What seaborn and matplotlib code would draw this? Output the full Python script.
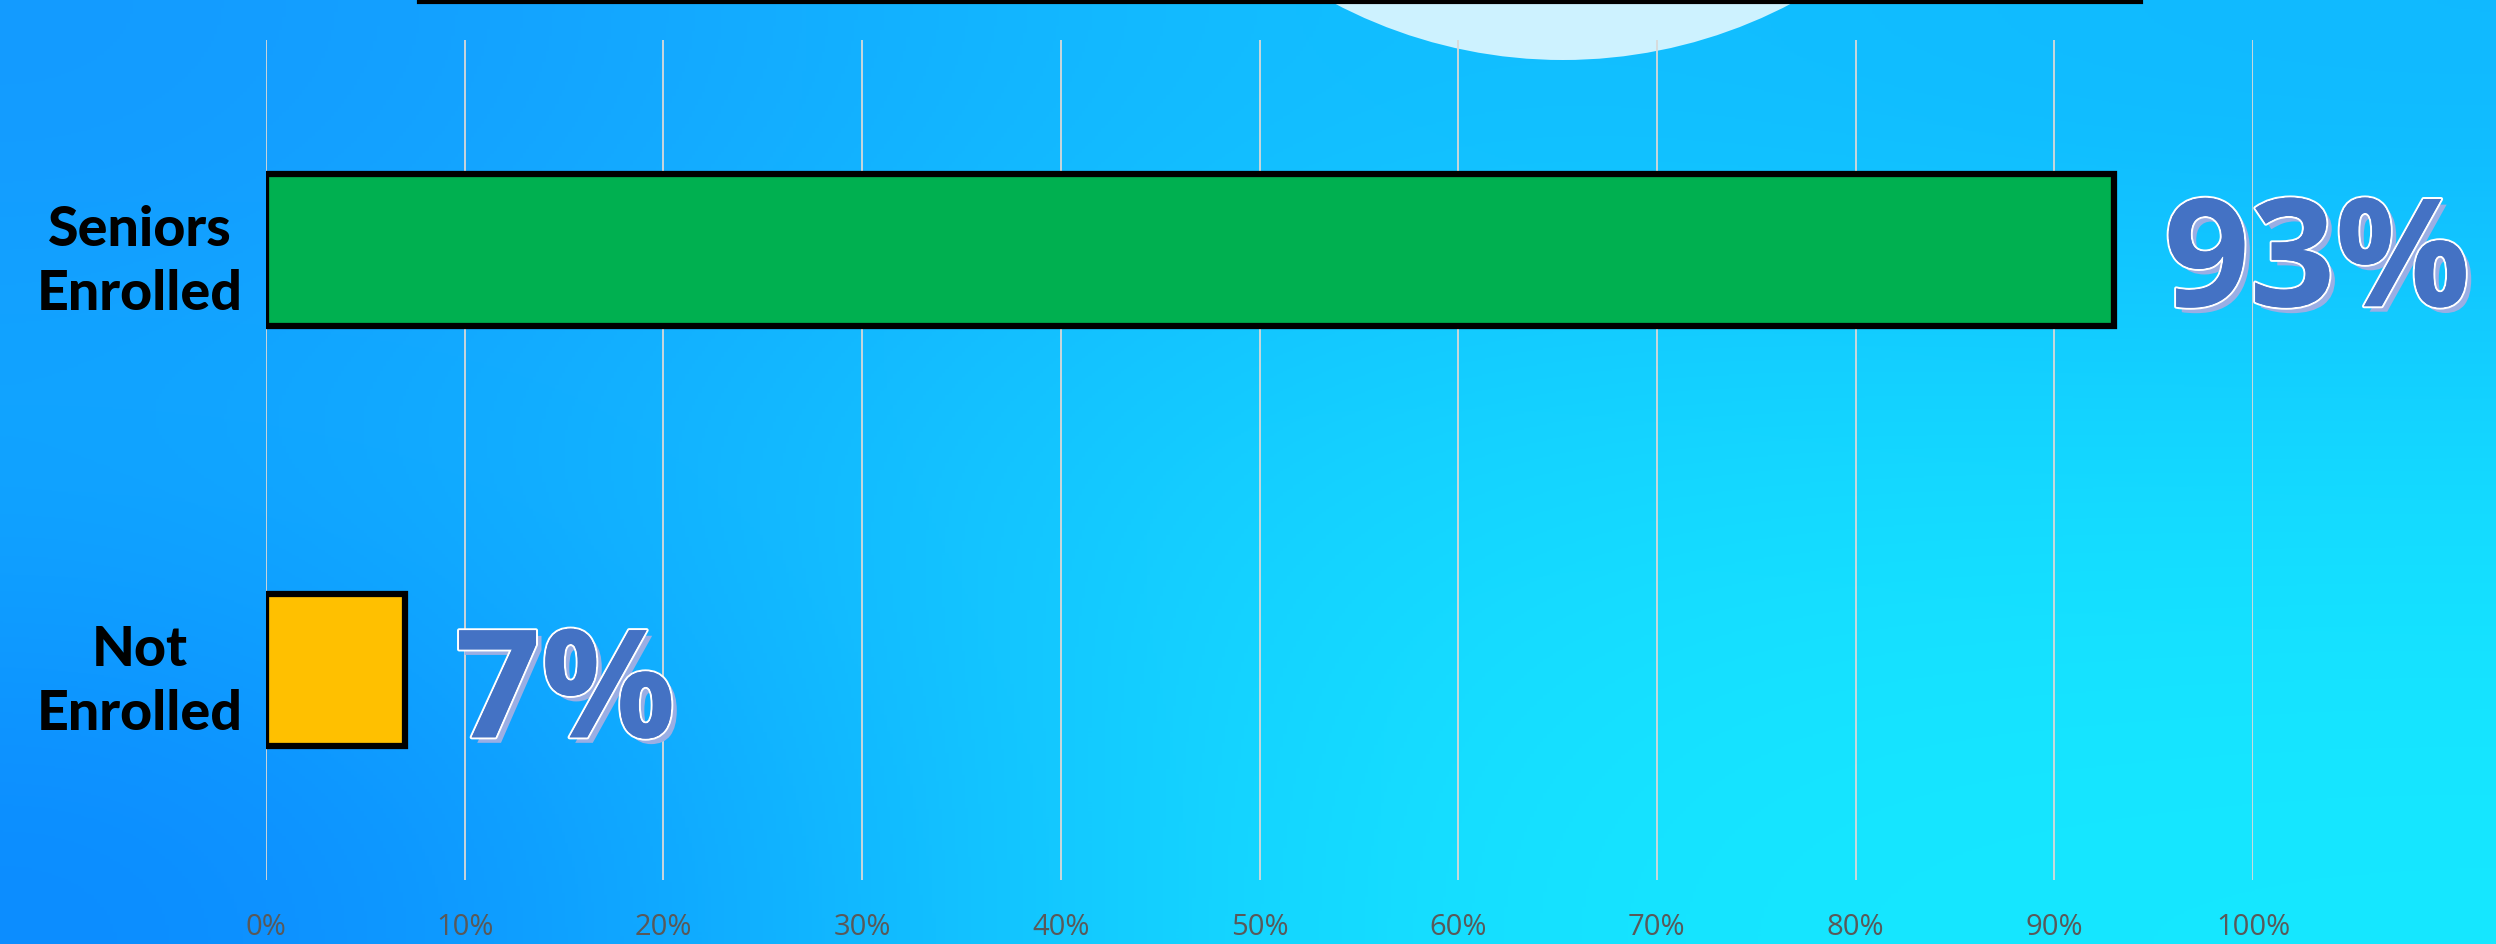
#!/usr/bin/env python3
"""Senior enrollment bar chart on a blue gradient slide background."""

import matplotlib
matplotlib.use("Agg")
import matplotlib.pyplot as plt
import matplotlib.patheffects as pe
from matplotlib.patches import Circle
from matplotlib.lines import Line2D
from matplotlib.colors import to_rgb
import seaborn as sns
import pandas as pd
import numpy as np

# data
categories = ["Seniors\nEnrolled", "Not\nEnrolled"]
shares = [0.93, 0.07]
bar_colors = ["#00b050", "#ffc000"]
tick_values = [0.0, 0.1, 0.2, 0.3, 0.4, 0.5, 0.6, 0.7, 0.8, 0.9, 1.0]
tick_labels = ["0%", "10%", "20%", "30%", "40%", "50%", "60%", "70%", "80%", "90%", "100%"]

df = pd.DataFrame({"category": categories, "share": shares})

W, H = 2496, 944
fig = plt.figure(figsize=(W / 100, H / 100), dpi=100)

# background gradient (3x3 colour grid, smoothed)
bg = fig.add_axes([0, 0, 1, 1], zorder=-5)
grid_cols = [["#1499ff", "#12c4ff", "#10b8ff"],
             ["#10a8ff", "#16d8ff", "#14dcff"],
             ["#0c88ff", "#16e4ff", "#16e8ff"]]
img = np.array([[to_rgb(c) for c in row] for row in grid_cols])
bg.imshow(img, extent=(0, W, H, 0), interpolation="bicubic", aspect="auto")
bg.add_patch(Circle((1563, -430), 490, color="#cdf2ff", lw=0))
bg.add_line(Line2D([419, 2141], [1.5, 1.5], color="black", lw=3))
bg.set_xlim(0, W)
bg.set_ylim(H, 0)
bg.axis("off")

# main chart
ax = fig.add_axes([266 / W, 1 - 880 / H, (2253 - 266) / W, 840 / H])
ax.set_facecolor("none")

sns.barplot(data=df, x="share", y="category", hue="category", palette=bar_colors,
            orient="h", width=0.36, saturation=1, legend=False, ax=ax,
            edgecolor="black", linewidth=4.5, zorder=3)

ax.set_xlim(0, 1.0)
ax.set_ylim(1.5, -0.5)
ax.set_xticks(tick_values)
ax.set_xticklabels(tick_labels, fontsize=21, color="#595959", family="Open Sans")
ax.grid(axis="x", color="#d9d9d9", linewidth=1.3, zorder=0)
ax.grid(axis="y", visible=False)
ax.set_axisbelow(True)
for s in ax.spines.values():
    s.set_visible(False)
ax.tick_params(axis="x", length=0, pad=24)
ax.tick_params(axis="y", length=0, pad=91)
ax.set_xlabel("")
ax.set_ylabel("")
for lab in ax.get_yticklabels():
    lab.set_horizontalalignment("center")
    lab.set_multialignment("center")
    lab.set_linespacing(1.35)
    lab.set_fontsize(40)
    lab.set_fontweight("black")
    lab.set_family(["Lato", "DejaVu Sans"])
    lab.set_color("black")

# big value labels with white outline and soft shadow
effects = [pe.SimplePatchShadow(offset=(4, -4), shadow_rgbFace="#9aaee4", alpha=1.0),
           pe.withStroke(linewidth=3, foreground="white"),
           pe.Normal()]
label_dy = [-12, -20]
for i, v in enumerate(shares):
    ax.annotate(f"{v * 100:.0f}%", xy=(v, i), xytext=(36, label_dy[i]),
                textcoords="offset points", ha="left", va="center",
                fontsize=108, fontweight="bold", family="Open Sans",
                color="#4472c4", path_effects=effects, annotation_clip=False)

fig.savefig("out.png", dpi=100)
